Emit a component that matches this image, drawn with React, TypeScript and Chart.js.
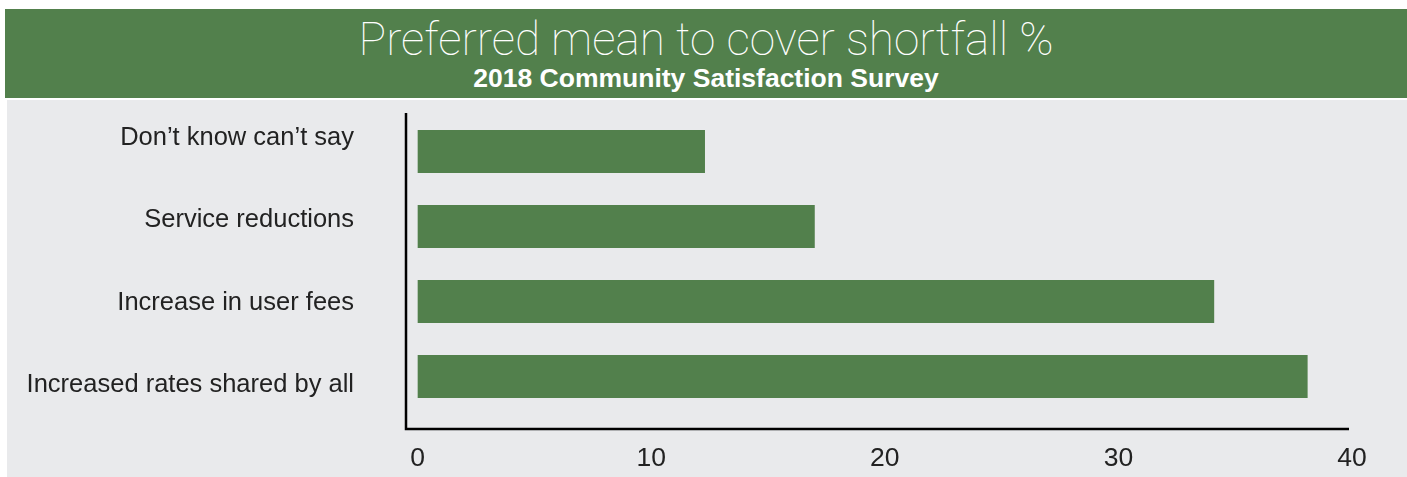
import React, { useEffect, useRef } from "react";
import { Chart, registerables } from "chart.js";

Chart.register(...registerables);

const titleText = "Preferred mean to cover shortfall %";
const subtitleText = "2018 Community Satisfaction Survey";
const categories = [
  "Don\u2019t know can\u2019t say",
  "Service reductions",
  "Increase in user fees",
  "Increased rates shared by all",
];
const values = [12.3, 17.0, 34.1, 38.1];
const xTicks = [0, 10, 20, 30, 40];
const labelSlots = [0, 1, 2, 3];
const LABEL_MIN = -0.2915;
const LABEL_MAX = 3.352;

const GREEN = "#52804c";
const GRAY = "#e9eaec";

const axisLinesPlugin = {
  id: "axisLines",
  afterDatasetsDraw(chart: any) {
    const { ctx, chartArea } = chart;
    const left = chartArea.left;
    const top = chartArea.top - 1;
    const bottom = chartArea.bottom + 15;
    const right = chartArea.right - 3;
    ctx.save();
    ctx.strokeStyle = "#000";
    ctx.lineWidth = 2.5;
    ctx.beginPath();
    ctx.moveTo(left, top);
    ctx.lineTo(left, bottom);
    ctx.lineTo(right, bottom);
    ctx.stroke();
    ctx.restore();
  },
};

export default function App() {
  const ref = useRef<HTMLCanvasElement>(null);
  useEffect(() => {
    if (!ref.current) return;
    const chart = new Chart(ref.current, {
      type: "bar",
      data: {
        labels: categories,
        datasets: [
          {
            data: values,
            yAxisID: "y",
            backgroundColor: GREEN,
            borderWidth: 0,
            categoryPercentage: 1,
            barPercentage: 43 / 75,
          },
        ],
      },
      options: {
        indexAxis: "y",
        animation: false,
        responsive: false,
        maintainAspectRatio: false,
        layout: { autoPadding: false, padding: { top: 14, right: 55, left: 0, bottom: 0 } },
        plugins: {
          legend: { display: false },
          tooltip: { enabled: false },
          title: { display: false },
        },
        scales: {
          x: {
            type: "linear",
            min: -0.5,
            max: 40,
            grid: { display: false, drawTicks: false },
            border: { display: false },
            afterBuildTicks: (scale: any) => {
              scale.ticks = xTicks.map((v) => ({ value: v }));
            },
            afterFit: (scale: any) => {
              scale.height = 63;
              scale.paddingLeft = 0;
              scale.paddingRight = 0;
            },
            ticks: {
              padding: 28.5,
              color: "#222",
              maxRotation: 0,
              font: { family: "Liberation Sans", size: 26.5 },
            },
          },
          y: {
            type: "category",
            display: false,
            grid: { display: false },
          },
          yLabels: {
            type: "linear",
            position: "left",
            reverse: true,
            offset: false,
            bounds: "data",
            min: LABEL_MIN,
            max: LABEL_MAX,
            grid: { display: false, drawTicks: false, offset: false },
            border: { display: false },
            afterDataLimits: (scale: any) => {
              scale.min = LABEL_MIN;
              scale.max = LABEL_MAX;
            },
            afterBuildTicks: (scale: any) => {
              scale.ticks = labelSlots.map((v) => ({ value: v }));
              scale.min = LABEL_MIN;
              scale.max = LABEL_MAX;
            },
            afterFit: (scale: any) => {
              scale.width = 399;
              scale.paddingTop = 0;
              scale.paddingBottom = 0;
            },
            ticks: {
              padding: 52,
              color: "#222",
              autoSkip: false,
              callback: (v: any) => categories[Math.round(Number(v))],
              font: { family: "Liberation Sans", size: 25.5 },
            },
          },
        },
      },
      plugins: [axisLinesPlugin],
    });
    return () => chart.destroy();
  }, []);

  return (
    <div style={{ position: "absolute", left: 0, top: 0, width: 1407, height: 477, background: "#fff", overflow: "hidden" }}>
      <div
        style={{
          position: "absolute",
          left: 5,
          top: 9,
          width: 1402,
          height: 89,
          background: GREEN,
          color: "#fff",
          textAlign: "center",
        }}
      >
        <div
          style={{
            position: "absolute",
            left: 0,
            right: 0,
            top: 7,
            fontFamily: "Roboto, 'Liberation Sans', sans-serif",
            fontWeight: 100,
            fontSize: 46,
            lineHeight: "46px",
            whiteSpace: "nowrap",
          }}
        >
          {titleText}
        </div>
        <div
          style={{
            position: "absolute",
            left: 0,
            right: 0,
            top: 55.5,
            fontFamily: "'Liberation Sans', Arial, sans-serif",
            fontWeight: 700,
            fontSize: 26.5,
            lineHeight: "26.5px",
            whiteSpace: "nowrap",
          }}
        >
          {subtitleText}
        </div>
      </div>
      <div style={{ position: "absolute", left: 7, top: 100, width: 1400, height: 377, background: GRAY }}>
        <canvas ref={ref} width={1400} height={377} style={{ display: "block", width: 1400, height: 377 }} />
      </div>
    </div>
  );
}
